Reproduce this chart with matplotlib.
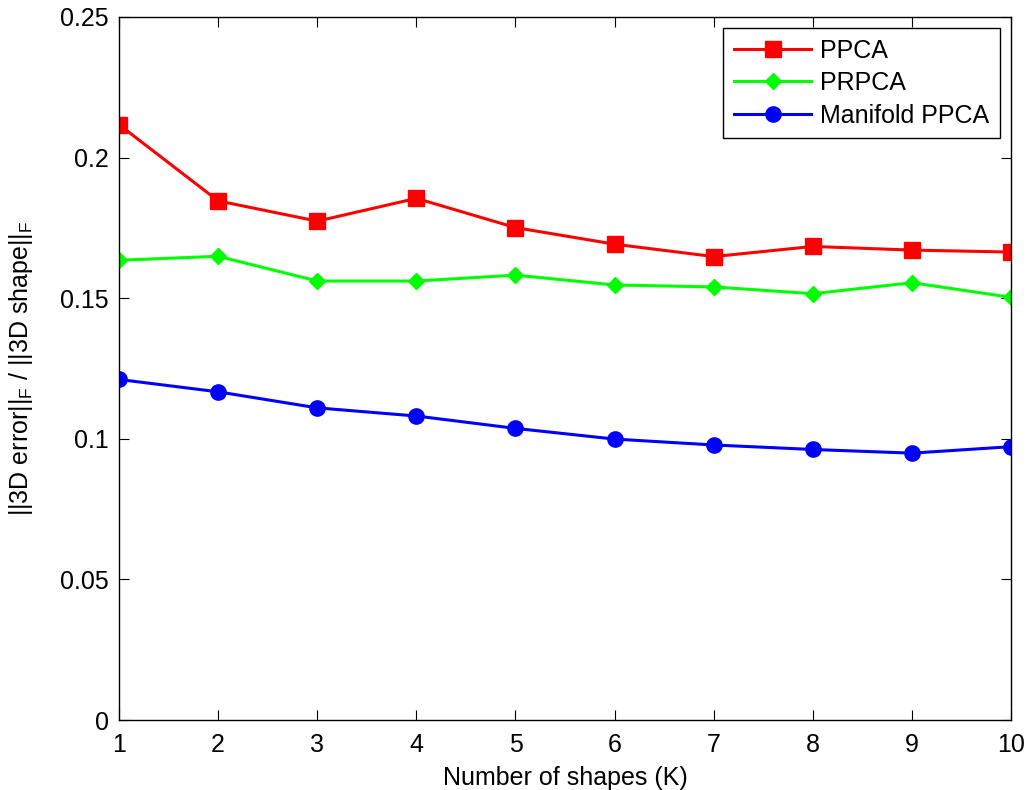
import matplotlib
matplotlib.use('Agg')
import matplotlib.pyplot as plt
from matplotlib.ticker import FuncFormatter

plt.rcParams['font.family'] = ['Liberation Sans', 'DejaVu Sans']

shapes = [1, 2, 3, 4, 5, 6, 7, 8, 9, 10]
ppca = [0.2117, 0.1846, 0.1774, 0.1855, 0.1751, 0.1692, 0.1648, 0.1684, 0.1671, 0.1664]
prpca = [0.1635, 0.1649, 0.1561, 0.1561, 0.1582, 0.1547, 0.1540, 0.1516, 0.1555, 0.1503]
manifold = [0.1211, 0.1167, 0.1110, 0.1081, 0.1037, 0.0999, 0.0978, 0.0962, 0.0949, 0.0972]

fig = plt.figure(figsize=(10.29, 7.90), dpi=100)
ax = fig.add_axes([0.1157, 0.0886, 0.8668, 0.8899])

ax.plot(shapes, ppca, color='#ff0000', lw=2.2, marker='s', ms=11, label='PPCA')
ax.plot(shapes, prpca, color='#00ff00', lw=2.2, marker='D', ms=8, label='PRPCA')
ax.plot(shapes, manifold, color='#0000ff', lw=2.2, marker='o', ms=11, label='Manifold PPCA')

ax.set_xlim(1, 10)
ax.set_ylim(0, 0.25)
ax.set_xticks(shapes)
ax.set_yticks([0, 0.05, 0.1, 0.15, 0.2, 0.25])
ax.yaxis.set_major_formatter(FuncFormatter(lambda v, p: '%g' % v))
ax.tick_params(direction='in', top=True, right=True, labelsize=18, length=7)
ax.tick_params(axis='x', pad=9.5)
ax.tick_params(axis='y', pad=7.5)
for s in ax.spines.values():
    s.set_linewidth(1.0)

ax.set_xlabel('Number of shapes (K)', fontsize=18, labelpad=6)
ax.set_ylabel(r'||3D error||$_\mathregular{F}$ / ||3D shape||$_\mathregular{F}$', fontsize=18, labelpad=18)

leg = ax.legend(loc='upper right', fontsize=18, fancybox=False, edgecolor='black',
                framealpha=1, borderaxespad=0.45, handlelength=3.1, handletextpad=0.35,
                labelspacing=0.34, borderpad=0.42)
leg.get_frame().set_linewidth(1.0)

fig.savefig('out.png', dpi=100)
